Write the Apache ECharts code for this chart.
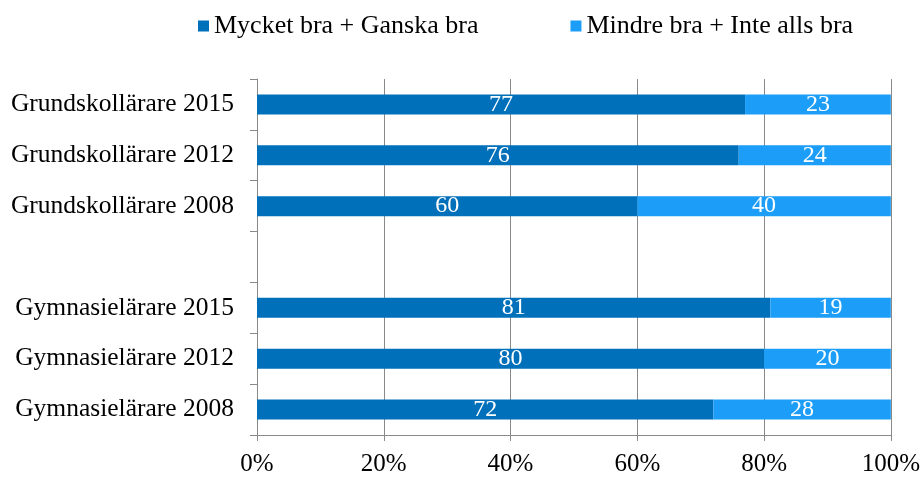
<!DOCTYPE html>
<html><head><meta charset="utf-8">
<script src="https://cdn.jsdelivr.net/npm/echarts@6/dist/echarts.min.js"></script>
<style>html,body{margin:0;padding:0;background:#fff}#c{width:923px;height:477px}</style>
</head><body><div id="c"></div>
<script>
const categories = ['Grundskollärare 2015','Grundskollärare 2012','Grundskollärare 2008','','Gymnasielärare 2015','Gymnasielärare 2012','Gymnasielärare 2008'];
const seriesNames = ['Mycket bra + Ganska bra','Mindre bra + Inte alls bra'];
const good = [77, 76, 60, null, 81, 80, 72];
const bad = [23, 24, 40, null, 19, 20, 28];
const xTicks = [0, 20, 40, 60, 80, 100];

const font = 'Liberation Serif';
const chart = echarts.init(document.getElementById('c'));
chart.setOption({
  animation: false,
  textStyle: {fontFamily: font},
  legend: {
    top: 8, left: 193, itemGap: 92, itemWidth: 11, itemHeight: 11,
    icon: 'rect',
    textStyle: {fontFamily: font, fontSize: 26, color: '#000'},
    data: seriesNames
  },
  grid: {left: 257, right: 30, top: 79, bottom: 40, containLabel: false},
  xAxis: {
    type: 'value', min: 0, max: 100, interval: 20,
    axisLine: {show: true, lineStyle: {color: '#898989'}},
    axisTick: {show: true, length: 6, lineStyle: {color: '#898989'}},
    splitLine: {show: true, lineStyle: {color: '#898989'}},
    axisLabel: {formatter: v => v + '%', fontFamily: font, fontSize: 25, color: '#000', margin: 17}
  },
  yAxis: {
    type: 'category', inverse: true, data: categories,
    axisLine: {show: true, lineStyle: {color: '#898989'}},
    axisTick: {show: true, length: 7, lineStyle: {color: '#898989'}},
    axisLabel: {fontFamily: font, fontSize: 25.5, color: '#000', margin: 23}
  },
  series: [
    {name: seriesNames[0], type: 'bar', stack: 's', data: good, barWidth: 20,
     itemStyle: {color: '#0070BA'},
     label: {show: true, position: 'inside', color: '#fff', fontFamily: font, fontSize: 24}},
    {name: seriesNames[1], type: 'bar', stack: 's', data: bad, barWidth: 20,
     itemStyle: {color: '#1C9DF8'},
     label: {show: true, position: 'inside', color: '#fff', fontFamily: font, fontSize: 24}}
  ]
});
</script></body></html>
